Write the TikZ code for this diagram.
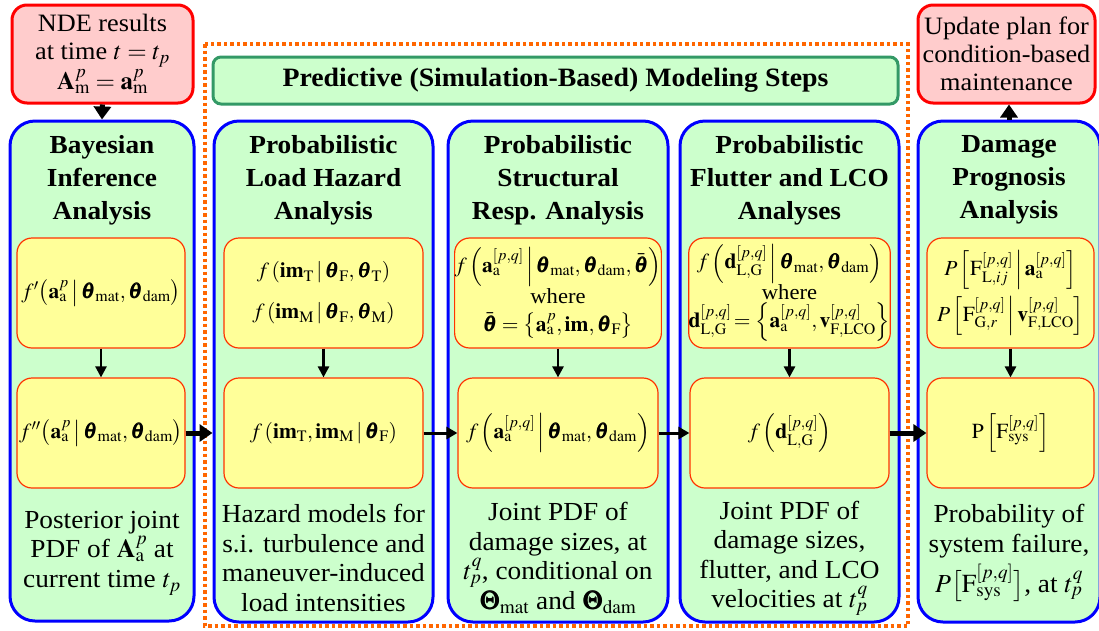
\documentclass[tikz,border=0pt]{standalone}
\usepackage{amsmath}
\usepackage{mathptmx}
\usepackage{bm}
\usepackage{fontspec}
\setmainfont[FakeStretch=1.05]{Liberation Serif}
\usetikzlibrary{arrows.meta}
\definecolor{bluebd}{RGB}{0,0,255}
\definecolor{greenfill}{RGB}{204,255,204}
\definecolor{yellowfill}{RGB}{255,255,153}
\definecolor{yellowbd}{RGB}{255,51,0}
\definecolor{pinkfill}{RGB}{255,204,204}
\definecolor{redbd}{RGB}{255,0,0}
\definecolor{titlebd}{RGB}{51,153,102}
\definecolor{dotor}{RGB}{255,102,0}
\newcommand{\myth}{\bm{\theta}}
\newcommand{\tmat}{\bm{\theta}_{\mathrm{mat}}}
\newcommand{\tdam}{\bm{\theta}_{\mathrm{dam}}}
\newcommand{\myaa}{\mathbf{a}_{\mathrm{a}}}
\newcommand{\mypq}{{[p,q]}}
\begin{document}
\begin{tikzpicture}[x=1pt,y=-1pt,
  colbox/.style={draw=bluebd,line width=3pt,fill=greenfill,rounded corners=25pt,inner sep=0pt},
  ybox/.style={draw=yellowbd,line width=1.2pt,fill=yellowfill,rounded corners=15pt,inner sep=0pt,
     minimum height=110pt,align=center,font=\fontsize{21.5}{27}\selectfont},
  redbox/.style={draw=redbd,line width=3pt,fill=pinkfill,rounded corners=15pt,inner sep=0pt,
     minimum height=98pt,align=center,font=\fontsize{25}{28}\selectfont},
  titlebox/.style={draw=titlebd,line width=3pt,fill=greenfill,rounded corners=8pt,inner sep=0pt,
     minimum width=685pt,minimum height=47pt,font=\fontsize{26.5}{30}\selectfont\bfseries},
  headtxt/.style={align=center,inner sep=0pt,font=\fontsize{26}{33}\selectfont\bfseries},
  bodytxt/.style={align=center,inner sep=0pt,font=\fontsize{26}{29.5}\selectfont},
  bigarrow/.style={line width=5pt,-{Triangle[length=13pt,width=17pt]}},
  medarrow/.style={line width=3pt,-{Triangle[length=11pt,width=12pt]}},
  smallarrow/.style={line width=2.5pt,-{Triangle[length=11pt,width=11pt]}},
  dotframe/.style={draw=dotor,line width=3.5pt,dash pattern=on 3.5pt off 3pt}
]
\useasboundingbox (0,0) rectangle (1099,630);
\fill[white] (0,0) rectangle (1099,630);

% dotted frame of predictive steps
\draw[dotframe] (205,44) rectangle (908,626);

% title box
\node[titlebox] (title) at (555.5,80.5) {Predictive (Simulation-Based) Modeling Steps};

% NDE and update boxes
\node[redbox,minimum width=181pt] (nde) at (102.5,54) {NDE results\\at time $t=t_p$\\[2pt]$\mathbf{A}_{\mathrm{m}}^{p}=\mathbf{a}_{\mathrm{m}}^{p}$};
\node[redbox,minimum width=177pt] (upd) at (1006.5,54) {Update plan for\\condition-based\\maintenance};

% columns
\node[colbox,minimum width=184pt,minimum height=500pt] (c1) at (102,371) {};
\node[colbox,minimum width=219pt,minimum height=501pt] (c2) at (323.5,371.5) {};
\node[colbox,minimum width=220pt,minimum height=501pt] (c3) at (558,371.5) {};
\node[colbox,minimum width=219pt,minimum height=501pt] (c4) at (789.5,371.5) {};
\node[colbox,minimum width=182pt,minimum height=501pt] (c5) at (1009,371.5) {};

% headings
\node[headtxt] (h1) at (102,180) {Bayesian\\Inference\\Analysis};
\node[headtxt] (h2) at (323.5,180) {Probabilistic\\Load Hazard\\Analysis};
\node[headtxt] (h3) at (558,180) {Probabilistic\\Structural\\Resp. Analysis};
\node[headtxt] (h4) at (789.5,180) {Probabilistic\\Flutter and LCO\\Analyses};
\node[headtxt] (h5) at (1009,180) {Damage\\Prognosis\\Analysis};

% upper yellow boxes
\node[ybox,minimum width=168pt] (u1) at (101,293)
  {$f'\!\left(\myaa^{p}\,\middle|\,\tmat,\tdam\right)$};
\node[ybox,minimum width=199pt] (u2) at (323.5,293)
  {$f\left(\mathbf{im}_{\mathrm{T}}\,\middle|\,\myth_{\mathrm{F}},\myth_{\mathrm{T}}\right)$\\[14pt]
   $f\left(\mathbf{im}_{\mathrm{M}}\,\middle|\,\myth_{\mathrm{F}},\myth_{\mathrm{M}}\right)$};
\node[ybox,minimum width=200pt] (u3) at (558,293)
  {$f\left(\myaa^{\mypq}\,\middle|\,\tmat,\tdam,\bar{\myth}\right)$\\[1pt]
   where\\[1pt]
   $\bar{\myth}=\left\{\myaa^{p},\mathbf{im},\myth_{\mathrm{F}}\right\}$};
\node[ybox,minimum width=199pt] (u4) at (789.5,293)
  {$f\left(\mathbf{d}_{\mathrm{L,G}}^{\mypq}\,\middle|\,\tmat,\tdam\right)$\\[1pt]
   where\\[1pt]
   $\mathbf{d}_{\mathrm{L,G}}^{\mypq}\!=\left\{\myaa^{\mypq},\mathbf{v}_{\mathrm{F,LCO}}^{\mypq}\right\}$};
\node[ybox,minimum width=167pt] (u5) at (1010.5,293)
  {$P\left[\mathrm{F}_{\mathrm{L},ij}^{\mypq}\,\middle|\,\myaa^{\mypq}\right]$\\[6pt]
   $P\left[\mathrm{F}_{\mathrm{G},r}^{\mypq}\,\middle|\,\mathbf{v}_{\mathrm{F,LCO}}^{\mypq}\right]$};

% lower yellow boxes
\node[ybox,minimum width=168pt] (l1) at (101,433)
  {$f''\!\left(\myaa^{p}\,\middle|\,\tmat,\tdam\right)$};
\node[ybox,minimum width=199pt] (l2) at (323.5,433)
  {$f\left(\mathbf{im}_{\mathrm{T}},\mathbf{im}_{\mathrm{M}}\,\middle|\,\myth_{\mathrm{F}}\right)$};
\node[ybox,minimum width=200pt] (l3) at (558,433)
  {$f\left(\myaa^{\mypq}\,\middle|\,\tmat,\tdam\right)$};
\node[ybox,minimum width=199pt] (l4) at (789.5,433)
  {$f\left(\mathbf{d}_{\mathrm{L,G}}^{\mypq}\right)$};
\node[ybox,minimum width=167pt] (l5) at (1010.5,433)
  {$\mathrm{P}\left[\mathrm{F}_{\mathrm{sys}}^{\mypq}\right]$};

% bottom texts
\node[bodytxt] (b1) at (102,553) {Posterior joint\\PDF of $\mathbf{A}_{\mathrm{a}}^{p}$ at\\current time $t_p$};
\node[bodytxt] (b2) at (323.5,558) {Hazard models for\\s.i. turbulence and\\maneuver-induced\\load intensities};
\node[bodytxt] (b3) at (558,558) {Joint PDF of\\damage sizes, at\\$t_p^q$, conditional on\\$\bm{\Theta}_{\mathrm{mat}}$ and $\bm{\Theta}_{\mathrm{dam}}$};
\node[bodytxt] (b4) at (789.5,558) {Joint PDF of\\damage sizes,\\flutter, and LCO\\velocities at $t_p^q$};
\node[bodytxt] (b5) at (1009,553) {Probability of\\system failure,\\[5pt]$P\bigl[\mathrm{F}_{\mathrm{sys}}^{\mypq}\bigr]$, at $t_p^q$};

% arrows
\draw[bigarrow] (nde.south) -- (c1.north);
\draw[bigarrow] (c5.north) -- (c5.north |- upd.south);
\foreach \i in {1,...,5}{\draw[smallarrow] (u\i.south) -- (l\i.north);}
\draw[bigarrow] (l1.east) -- (l1.east -| c2.west);
\draw[medarrow] (l2.east) -- (l3.west);
\draw[medarrow] (l3.east) -- (l4.west);
\draw[bigarrow] (l4.east) -- (l5.west);
\end{tikzpicture}
\end{document}
